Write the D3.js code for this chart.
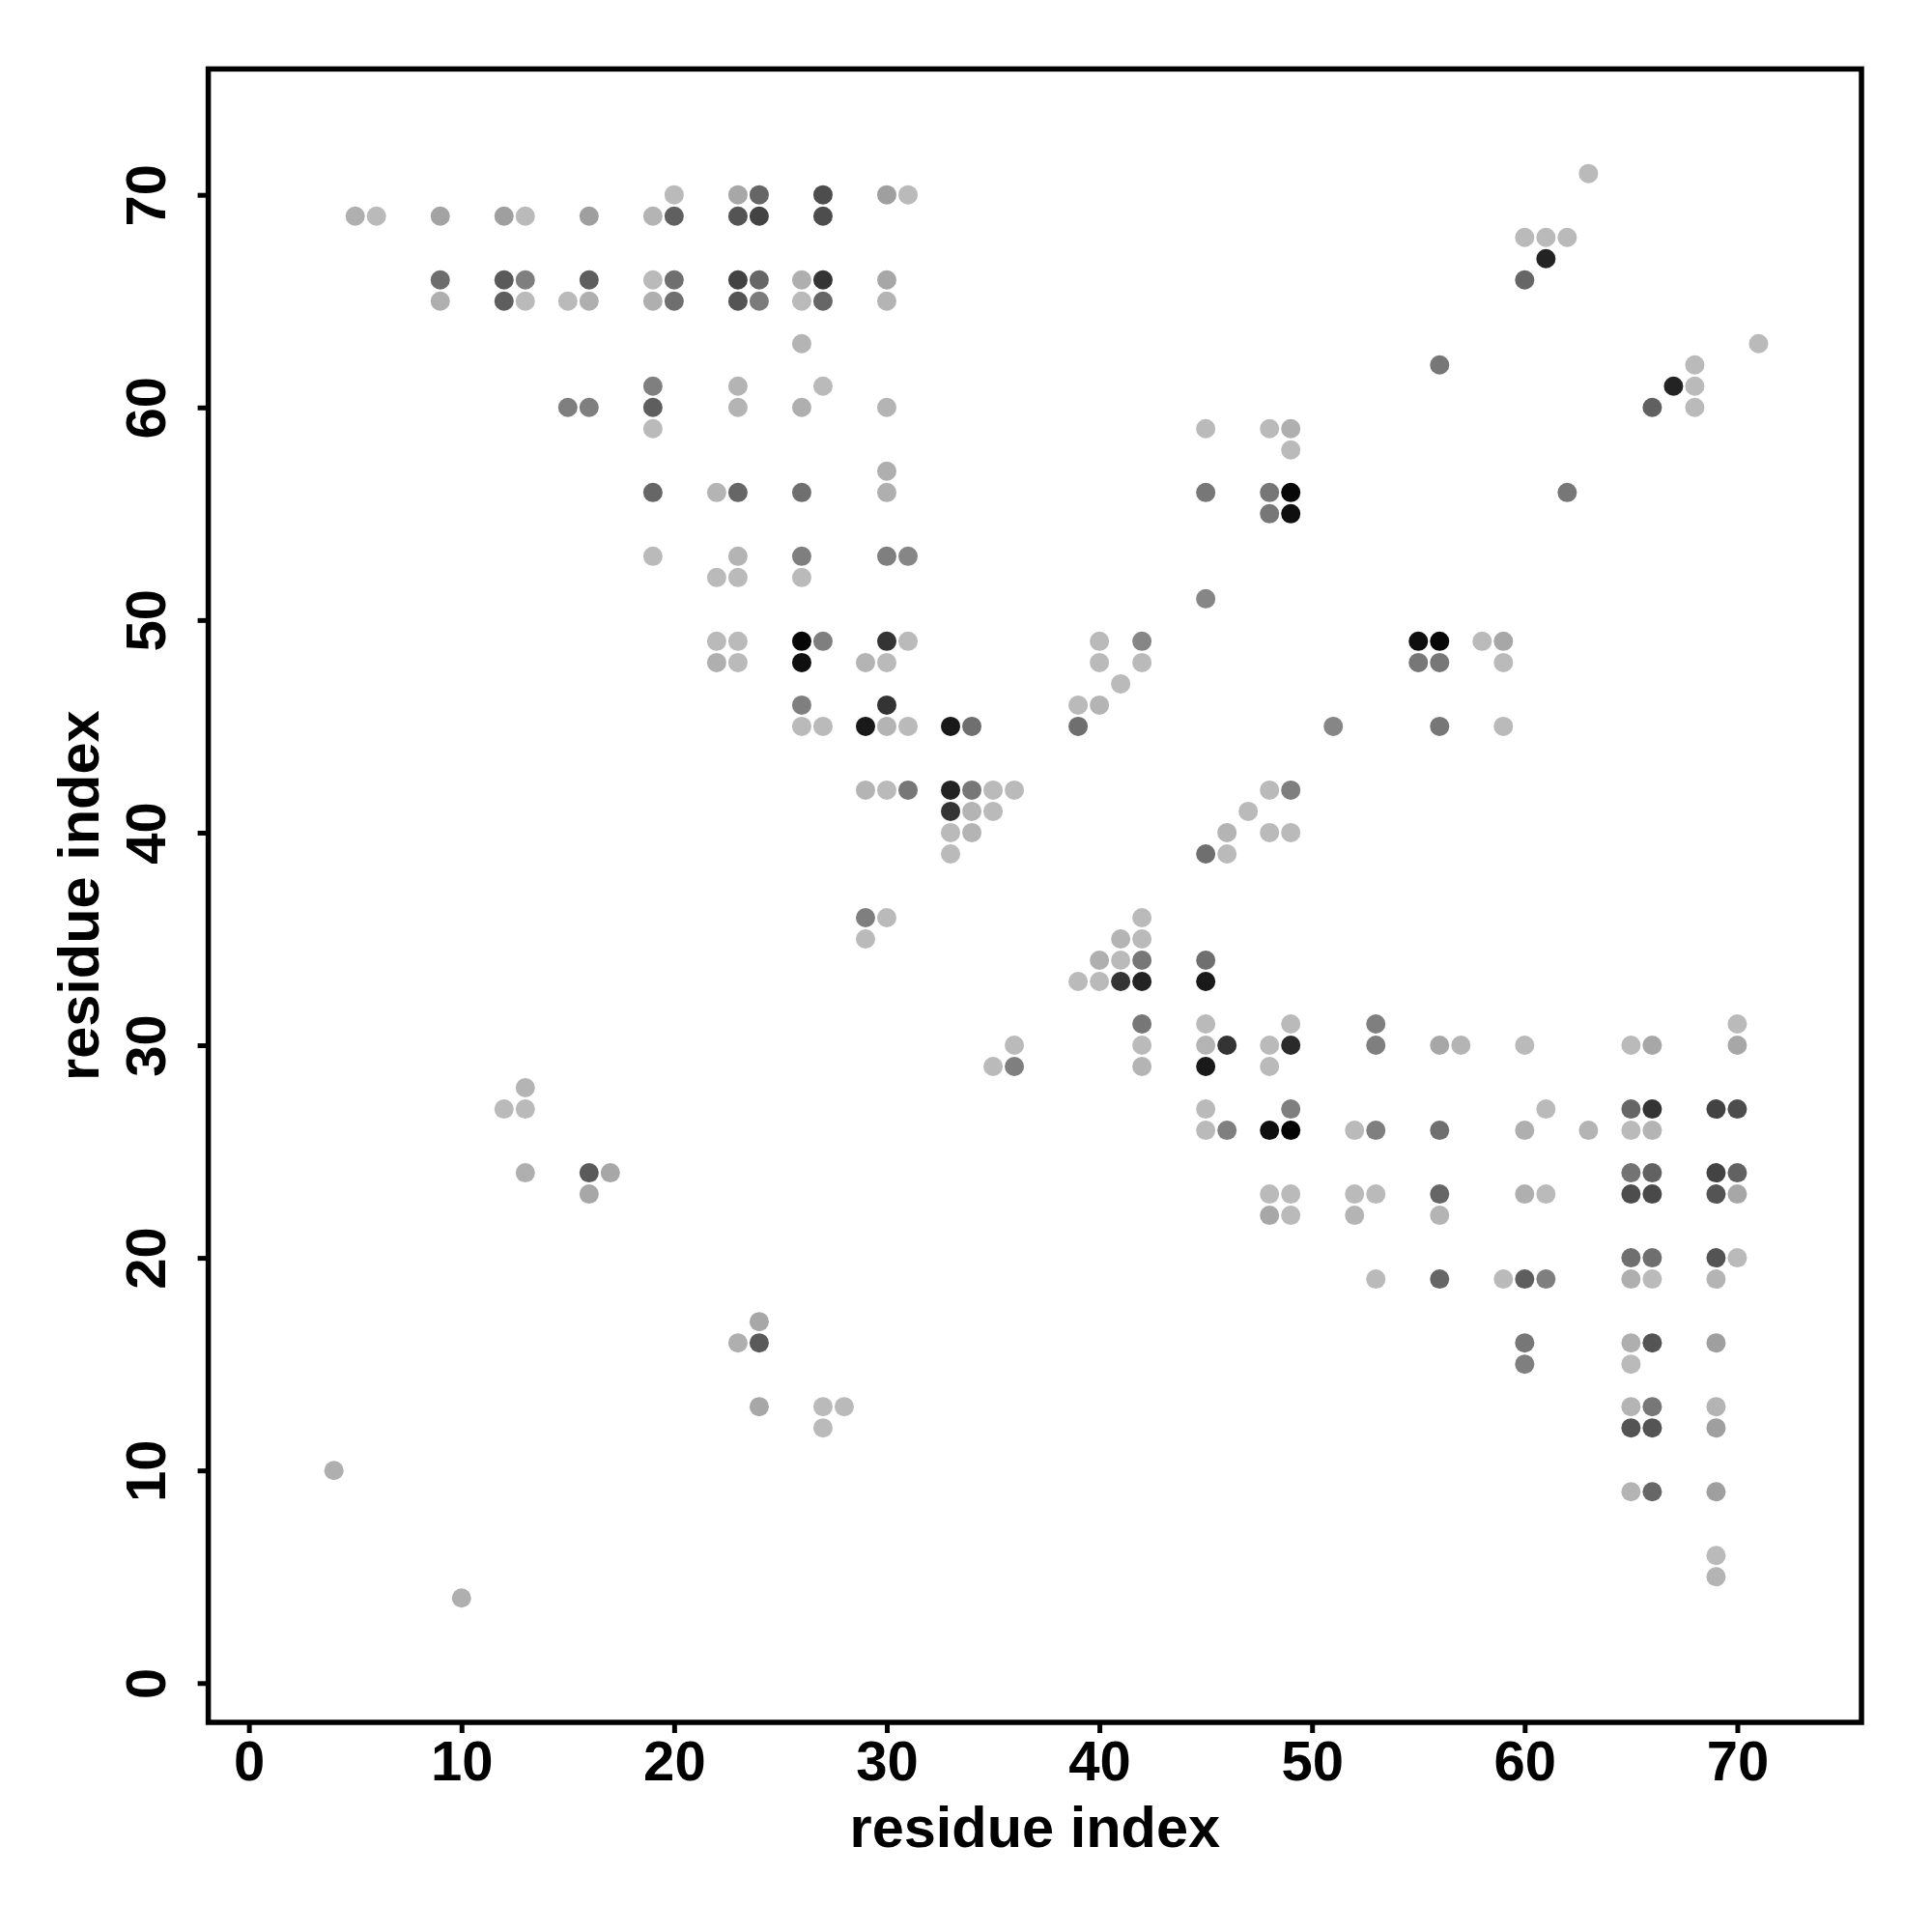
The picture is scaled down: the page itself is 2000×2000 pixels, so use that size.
<!DOCTYPE html>
<html>
<head>
<meta charset="utf-8">
<script src="https://cdn.jsdelivr.net/npm/d3@7"></script>
<style>
  html, body { margin: 0; padding: 0; background: #ffffff; }
  svg { display: block; }
</style>
</head>
<body>
<svg id="chart" width="2000" height="2000"></svg>
<script>
// ---- data: contact map (residue j rows, residue i columns, contact probability) ----
const rowJ = [71, 70, 69, 68, 67, 66, 65, 63, 62, 61, 60, 59, 58, 57, 56, 55, 53, 52, 51, 49, 48, 47, 46, 45,
              42, 41, 40, 39, 36, 35, 34, 33, 31, 30, 29, 28, 27, 26, 24, 23, 22, 20, 19, 17, 16, 15, 13, 12, 10, 9, 6, 5, 4];
const rowI = [
  [63],
  [20, 23, 24, 27, 30, 31],
  [5, 6, 9, 12, 13, 16, 19, 20, 23, 24, 27],
  [60, 61, 62],
  [61],
  [9, 12, 13, 16, 19, 20, 23, 24, 26, 27, 30, 60],
  [9, 12, 13, 15, 16, 19, 20, 23, 24, 26, 27, 30],
  [26, 71],
  [56, 68],
  [19, 23, 27, 67, 68],
  [15, 16, 19, 23, 26, 30, 66, 68],
  [19, 45, 48, 49],
  [49],
  [30],
  [19, 22, 23, 26, 30, 45, 48, 49, 62],
  [48, 49],
  [19, 23, 26, 30, 31],
  [22, 23, 26],
  [45],
  [22, 23, 26, 27, 30, 31, 40, 42, 55, 56, 58, 59],
  [22, 23, 26, 29, 30, 40, 42, 55, 56, 59],
  [41],
  [26, 30, 39, 40],
  [26, 27, 29, 30, 31, 33, 34, 39, 51, 56, 59],
  [29, 30, 31, 33, 34, 35, 36, 48, 49],
  [33, 34, 35, 47],
  [33, 34, 46, 48, 49],
  [33, 45, 46],
  [29, 30, 42],
  [29, 41, 42],
  [40, 41, 42, 45],
  [39, 40, 41, 42, 45],
  [42, 45, 49, 53, 70],
  [36, 42, 45, 46, 48, 49, 53, 56, 57, 60, 65, 66, 70],
  [35, 36, 42, 45, 48],
  [13],
  [12, 13, 45, 49, 61, 65, 66, 69, 70],
  [45, 46, 48, 49, 52, 53, 56, 60, 63, 65, 66],
  [13, 16, 17, 65, 66, 69, 70],
  [16, 48, 49, 52, 53, 56, 60, 61, 65, 66, 69, 70],
  [48, 49, 52, 56],
  [65, 66, 69, 70],
  [53, 56, 59, 60, 61, 65, 66, 69],
  [24],
  [23, 24, 60, 65, 66, 69],
  [60, 65],
  [24, 27, 28, 65, 66, 69],
  [27, 65, 66, 69],
  [4],
  [65, 66, 69],
  [69],
  [69],
  [10]
];
const rowP = [
  [.03],
  [.03, .13, .47, .60, .17, .03],
  [.09, .03, .15, .17, .03, .17, .06, .50, .56, .65, .60],
  [.03, .03, .03],
  [.82],
  [.43, .53, .34, .51, .03, .42, .65, .47, .09, .73, .13, .47],
  [.09, .51, .03, .03, .09, .09, .42, .56, .36, .03, .47, .06],
  [.06, .03],
  [.38, .03],
  [.34, .06, .03, .82, .03],
  [.34, .34, .51, .06, .09, .06, .50, .03],
  [.03, .03, .03, .09],
  [.03],
  [.09],
  [.47, .06, .47, .42, .09, .38, .38, .96, .38],
  [.38, .92],
  [.03, .06, .34, .34, .30],
  [.03, .03, .03],
  [.30],
  [.03, .03, .97, .34, .73, .03, .03, .30, .92, .96, .03, .13],
  [.09, .03, .92, .06, .03, .03, .03, .38, .38, .03],
  [.03],
  [.34, .73, .03, .06],
  [.03, .03, .87, .06, .03, .87, .42, .42, .30, .38, .03],
  [.06, .03, .38, .82, .38, .03, .03, .03, .34],
  [.73, .06, .03, .03],
  [.03, .06, .06, .03, .03],
  [.03, .42, .03],
  [.34, .03, .03],
  [.03, .06, .03],
  [.09, .03, .38, .42],
  [.03, .03, .73, .82, .87],
  [.38, .03, .03, .34, .03],
  [.03, .03, .06, .73, .03, .78, .34, .13, .06, .03, .03, .13, .13],
  [.03, .34, .06, .87, .03],
  [.06],
  [.03, .03, .03, .34, .03, .47, .73, .65, .60],
  [.03, .34, .92, .98, .03, .34, .42, .09, .06, .03, .06],
  [.09, .53, .13, .40, .49, .65, .49],
  [.13, .03, .03, .03, .03, .47, .09, .03, .60, .62, .56, .13],
  [.13, .03, .06, .06],
  [.42, .42, .56, .03],
  [.03, .47, .03, .51, .34, .09, .03, .06],
  [.13],
  [.09, .53, .38, .09, .56, .17],
  [.34, .03],
  [.13, .03, .03, .06, .38, .06],
  [.03, .56, .56, .17],
  [.09],
  [.06, .47, .17],
  [.03],
  [.06],
  [.09]
];
const tickValues = [0, 10, 20, 30, 40, 50, 60, 70];
const xLabel = "residue index";
const yLabel = "residue index";

// ---- build table ----
const contacts = [];
rowJ.forEach((j, r) => {
  rowI[r].forEach((i, k) => contacts.push({ i: i, j: j, p: rowP[r][k] }));
});

// ---- layout ----
const W = 2000, H = 2000;
const frame = { left: 215.6, right: 1927, top: 71.4, bottom: 1783 };
const FONT = "'Liberation Sans', Arial, Helvetica, sans-serif";
const FS = 58;
const FS_TITLE = 59.5;

const svg = d3.select("#chart");
svg.append("rect").attr("width", W).attr("height", H).attr("fill", "#ffffff");

const x = d3.scaleLinear().domain([-1.91, 75.84]).range([frame.left, frame.right]);
const y = d3.scaleLinear().domain([-1.85, 75.92]).range([frame.bottom, frame.top]);
const gray = d3.scaleLinear().domain([0, 1]).range(["#c0c0c0", "#000000"]);

// points
svg.append("g")
  .selectAll("circle")
  .data(contacts)
  .join("circle")
  .attr("cx", d => x(d.i))
  .attr("cy", d => y(d.j))
  .attr("r", 10)
  .attr("fill", d => gray(d.p));

// axes
const xAxis = svg.append("g")
  .attr("transform", `translate(0,${frame.bottom})`)
  .call(d3.axisBottom(x).tickValues(tickValues).tickSize(11).tickSizeOuter(0).tickFormat(d3.format("d")));
xAxis.select(".domain").remove();
xAxis.selectAll(".tick line").attr("stroke", "#000").attr("stroke-width", 5);
xAxis.selectAll(".tick text")
  .attr("y", 60).attr("dy", null)
  .attr("fill", "#000")
  .style("font-family", FONT).style("font-size", FS + "px").style("font-weight", "bold");

const yAxis = svg.append("g")
  .attr("transform", `translate(${frame.left},0)`)
  .call(d3.axisLeft(y).tickValues(tickValues).tickSize(11).tickSizeOuter(0).tickFormat(d3.format("d")));
yAxis.select(".domain").remove();
yAxis.selectAll(".tick line").attr("stroke", "#000").attr("stroke-width", 5);
yAxis.selectAll(".tick text")
  .attr("x", null).attr("dy", null)
  .attr("text-anchor", "middle")
  .attr("transform", "translate(-45,0) rotate(-90)")
  .attr("fill", "#000")
  .style("font-family", FONT).style("font-size", FS + "px").style("font-weight", "bold");

// frame
svg.append("rect")
  .attr("x", frame.left).attr("y", frame.top)
  .attr("width", frame.right - frame.left).attr("height", frame.bottom - frame.top)
  .attr("fill", "none").attr("stroke", "#000").attr("stroke-width", 5.5);

// axis titles
svg.append("text")
  .attr("x", (frame.left + frame.right) / 2).attr("y", 1912)
  .attr("text-anchor", "middle")
  .style("font-family", FONT).style("font-size", FS_TITLE + "px").style("font-weight", "bold")
  .text(xLabel);

svg.append("text")
  .attr("transform", `translate(102,${(frame.top + frame.bottom) / 2}) rotate(-90)`)
  .attr("text-anchor", "middle")
  .style("font-family", FONT).style("font-size", FS_TITLE + "px").style("font-weight", "bold")
  .text(yLabel);
</script>
</body>
</html>
